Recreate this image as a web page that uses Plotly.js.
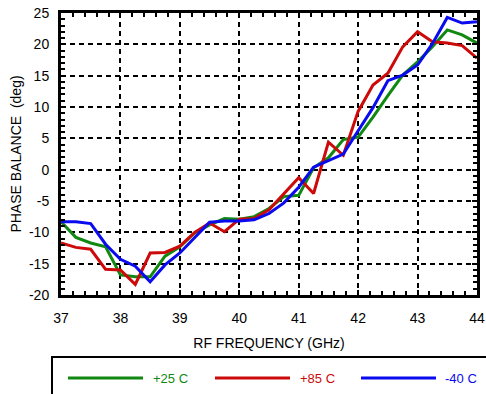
<!DOCTYPE html>
<html>
<head>
<meta charset="utf-8">
<script src="https://cdn.plot.ly/plotly-3.0.1.min.js"></script>
<style>html,body{margin:0;padding:0;background:#fff;}#chart{width:486px;height:394px;}</style>
</head>
<body>
<div id="chart"></div>
<script>
const freq = [37.00,37.25,37.50,37.75,38.00,38.25,38.50,38.75,39.00,39.25,39.50,39.75,40.00,40.25,40.50,40.75,41.00,41.25,41.50,41.75,42.00,42.25,42.50,42.75,43.00,43.25,43.50,43.75,44.00];
const p25 = [-8.3,-10.8,-11.7,-12.3,-16.8,-17.1,-17.1,-13.8,-12.3,-10.1,-8.8,-7.8,-7.9,-7.5,-6.2,-4.3,-4.1,0.3,1.9,4.8,5.2,8.4,11.8,15.1,17.2,19.6,22.3,21.5,20.2];
const p85 = [-11.7,-12.4,-12.7,-15.9,-16.0,-18.3,-13.3,-13.2,-12.2,-10.0,-8.5,-9.9,-7.9,-7.8,-6.4,-3.8,-1.3,-3.8,4.4,2.3,9.3,13.5,15.4,19.6,22.0,20.4,20.2,19.8,17.8];
const m40 = [-8.3,-8.3,-8.6,-11.9,-14.3,-15.4,-17.9,-15.2,-13.3,-10.9,-8.4,-8.2,-8.2,-8.0,-7.0,-5.3,-2.8,0.4,1.5,2.5,6.2,9.9,14.2,15.1,16.7,20.1,24.3,23.4,23.6];
const seriesNames = ['+25 C','+85 C','-40 C'];
const xTicks = [37,38,39,40,41,42,43,44];
const yTicks = [-20,-15,-10,-5,0,5,10,15,20,25];

const colors = ['#118811','#cc0a0a','#0a0aee'];
const font = 'Liberation Sans, Arial, Helvetica, sans-serif';
const ys = [p25,p85,m40];
const traces = ys.map((y,i)=>({
  x: freq, y: y, type:'scatter', mode:'lines', name: seriesNames[i],
  line:{color:colors[i], width:3}, showlegend:false
}));

// legend (drawn in paper coordinates)
const L = 61, W = 416, B = 295, H = 282;
const px = v => (v - L)/W, py = v => (B - v)/H;
const legY = py(378);
const legItems = [[68,143,151],[215,290,298],[361,436,443]];
const shapes = [{type:'rect', xref:'paper', yref:'paper', x0:px(52), x1:px(500), y0:py(357), y1:py(420), line:{color:'black', width:2}, fillcolor:'rgba(0,0,0,0)'}];
const annotations = [];
legItems.forEach((it,i)=>{
  shapes.push({type:'line', xref:'paper', yref:'paper', x0:px(it[0]), x1:px(it[1]), y0:legY, y1:legY, line:{color:colors[i], width:3}});
  annotations.push({xref:'paper', yref:'paper', x:px(it[2]), y:legY, xanchor:'left', yanchor:'middle', text:seriesNames[i], showarrow:false, font:{family:font, size:13, color:colors[i]}});
});

const axisCommon = {
  showline:true, linecolor:'black', linewidth:3, mirror:'allticks',
  ticks:'inside', ticklen:5, tickwidth:2, tickcolor:'black',
  showgrid:true, gridcolor:'black', gridwidth:2, griddash:'5px,4px',
  zeroline:false, tickfont:{family:font, size:14, color:'black'}
};
const layout = {
  width:486, height:394,
  margin:{l:61, r:9, t:13, b:99},
  paper_bgcolor:'white', plot_bgcolor:'white',
  xaxis: Object.assign({}, axisCommon, {
    range:[37,44], tickvals:xTicks, ticktext:xTicks.map(String),
    ticklabelstandoff:8,
    minor:{dtick:0.2, tick0:37, ticks:'inside', ticklen:4, tickwidth:2, tickcolor:'black', showgrid:false},
    title:{text:'RF FREQUENCY (GHz)', font:{family:font, size:14, color:'black'}, standoff:14}
  }),
  yaxis: Object.assign({}, axisCommon, {
    range:[-20,25], tickvals:yTicks, ticktext:yTicks.map(String),
    ticklabelstandoff:6,
    minor:{dtick:1, tick0:0, ticks:'inside', ticklen:4, tickwidth:2, tickcolor:'black', showgrid:false},
    title:{text:'PHASE BALANCE\u00A0\u00A0(deg)', font:{family:font, size:14, color:'black'}, standoff:5}
  }),
  shapes: shapes,
  annotations: annotations,
  showlegend:false
};
Plotly.newPlot('chart', traces, layout, {displayModeBar:false, staticPlot:true});
</script>
</body>
</html>
